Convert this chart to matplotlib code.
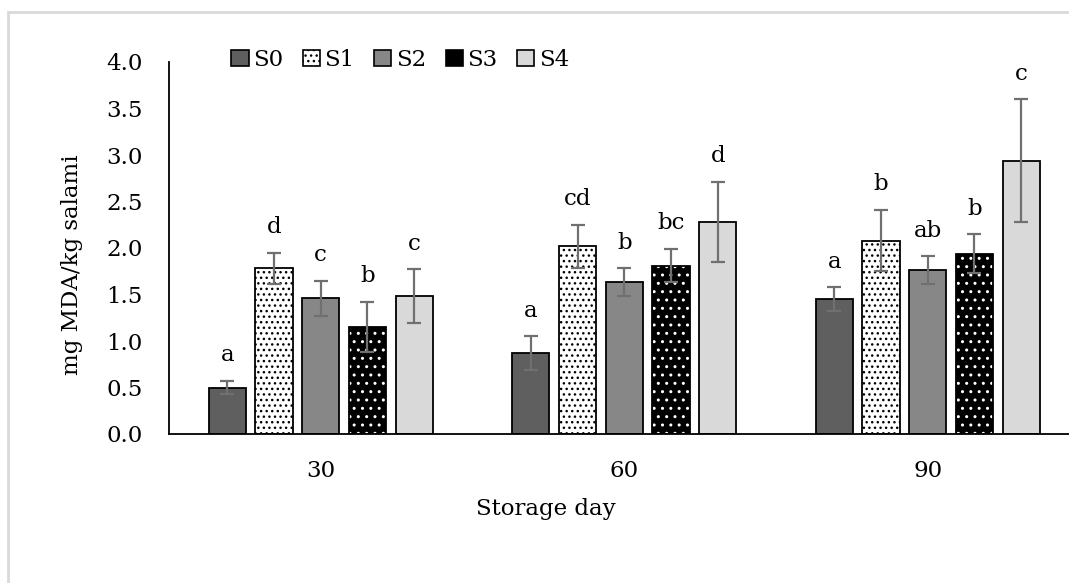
import matplotlib.pyplot as plt
import numpy as np
from matplotlib.patches import Patch, Rectangle

days = ['30', '60', '90']
series = ['S0', 'S1', 'S2', 'S3', 'S4']

# mean values per storage day for each sample
means = {
    'S0': [0.50, 0.87, 1.45],
    'S1': [1.78, 2.02, 2.08],
    'S2': [1.46, 1.63, 1.76],
    'S3': [1.15, 1.81, 1.94],
    'S4': [1.48, 2.28, 2.94],
}
errors = {
    'S0': [0.07, 0.18, 0.13],
    'S1': [0.17, 0.23, 0.33],
    'S2': [0.19, 0.15, 0.15],
    'S3': [0.27, 0.18, 0.21],
    'S4': [0.29, 0.43, 0.66],
}
letters = {
    'S0': ['a', 'a', 'a'],
    'S1': ['d', 'cd', 'b'],
    'S2': ['c', 'b', 'ab'],
    'S3': ['b', 'bc', 'b'],
    'S4': ['c', 'd', 'c'],
}

# fill colour, hatch, hatch colour
styles = {
    'S0': ('#5f5f5f', '', 'black'),
    'S1': ('white', '...', 'black'),
    'S2': ('#878787', '', 'black'),
    'S3': ('black', '..', 'white'),
    'S4': ('#d9d9d9', '', 'black'),
}

plt.rcParams['font.family'] = 'DejaVu Serif'
plt.rcParams['hatch.linewidth'] = 1.0
FS = 16.5

W, H = 1069, 583
fig = plt.figure(figsize=(W / 100, H / 100), dpi=100)
ax = fig.add_axes([169 / W, 1 - 434 / H, 910.5 / W, (434 - 62) / H])

x = np.arange(len(days))
step = 0.154
width = 0.122

handles = []
for i, s in enumerate(series):
    fc, hatch, hc = styles[s]
    pos = x + (i - 2) * step
    ax.bar(pos, means[s], width, color=fc, hatch=hatch, edgecolor=hc,
           linewidth=0, zorder=2)
    ax.bar(pos, means[s], width, facecolor='none', edgecolor='black',
           linewidth=1.3, zorder=3)
    ax.errorbar(pos, means[s], yerr=errors[s], fmt='none', ecolor='#707070',
                elinewidth=1.6, capsize=5, capthick=1.6, zorder=4)
    for px, m, e, lab in zip(pos, means[s], errors[s], letters[s]):
        ax.text(px, m + e + 0.21, lab, ha='center', va='baseline', fontsize=FS)
    leg_hatch = hatch if hc == 'black' else ''
    handles.append(Patch(facecolor=fc, edgecolor='black', linewidth=1.2,
                         hatch=leg_hatch))

ax.set_xlim(-0.5, 2.5)
ax.set_ylim(0, 4.0)
ax.set_yticks(np.arange(0, 4.01, 0.5))
ax.set_yticklabels([f'{v:.1f}' for v in np.arange(0, 4.01, 0.5)], fontsize=FS)
ax.set_xticks(x)
ax.set_xticklabels(days, fontsize=FS)
ax.tick_params(axis='y', length=0, pad=19)
ax.tick_params(axis='x', length=0, pad=19)
for side in ['top', 'right']:
    ax.spines[side].set_visible(False)
ax.spines['left'].set_linewidth(1.3)
ax.spines['bottom'].set_linewidth(1.3)

fig.text(72 / W, 1 - 265 / H, 'mg MDA/kg salami', rotation=90,
         ha='center', va='center', fontsize=FS)
fig.text(546 / W, 1 - 509 / H, 'Storage day', ha='center', va='center',
         fontsize=FS)

fig.legend(handles, series, loc='center left',
           bbox_to_anchor=(220 / W, 1 - 60 / H), ncol=5, frameon=False,
           fontsize=FS, handlelength=0.75, handleheight=0.75,
           handletextpad=0.2, columnspacing=0.85, borderpad=0)

fig.patches.append(Rectangle((8 / W, -0.1), 1.1, 1.1 - 12 / H,
                             transform=fig.transFigure, facecolor='none',
                             edgecolor='#d9d9d9', linewidth=2))

fig.savefig('out.png', dpi=100)
